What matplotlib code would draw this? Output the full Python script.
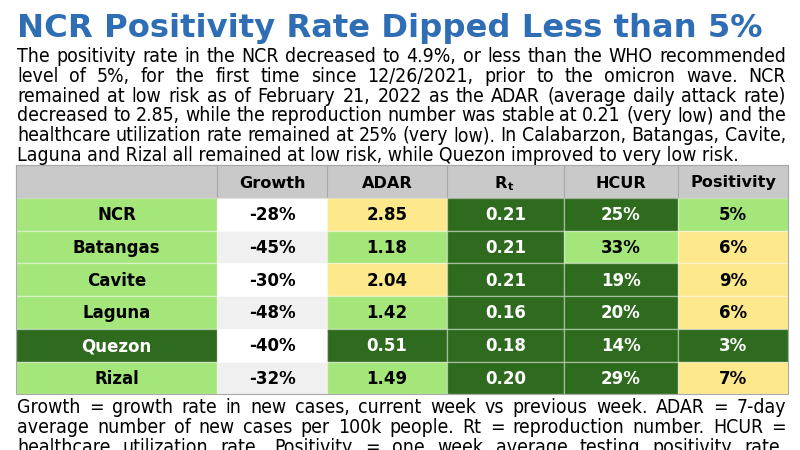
import matplotlib
matplotlib.use("Agg")
import matplotlib.pyplot as plt
from matplotlib.patches import Rectangle

plt.rcParams['font.family'] = ['DejaVu Sans']

# ---------------------------------------------------------------- data
title = "NCR Positivity Rate Dipped Less than 5%"

intro_lines = [
    "The positivity rate in the NCR decreased to 4.9%, or less than the WHO recommended",
    "level of 5%, for the first time since 12/26/2021, prior to the omicron wave. NCR",
    "remained at low risk as of February 21, 2022 as the ADAR (average daily attack rate)",
    "decreased to 2.85, while the reproduction number was stable at 0.21 (very low) and the",
    "healthcare utilization rate remained at 25% (very low). In Calabarzon, Batangas, Cavite,",
    "Laguna and Rizal all remained at low risk, while Quezon improved to very low risk.",
]

footer_lines = [
    "Growth = growth rate in new cases, current week vs previous week. ADAR = 7-day",
    "average number of new cases per 100k people. Rt = reproduction number. HCUR =",
    "healthcare utilization rate. Positivity = one week average testing positivity rate.",
]

columns = ["", "Growth", "ADAR", "R", "HCUR", "Positivity"]
regions = ["NCR", "Batangas", "Cavite", "Laguna", "Quezon", "Rizal"]
growth = ["-28%", "-45%", "-30%", "-48%", "-40%", "-32%"]
adar = ["2.85", "1.18", "2.04", "1.42", "0.51", "1.49"]
rt = ["0.21", "0.21", "0.21", "0.16", "0.18", "0.20"]
hcur = ["25%", "33%", "19%", "20%", "14%", "29%"]
positivity = ["5%", "6%", "9%", "6%", "3%", "7%"]

# risk level per cell: vl = very low, lo = low, md = moderate
region_risk = ["lo", "lo", "lo", "lo", "vl", "lo"]
adar_risk = ["md", "lo", "md", "lo", "vl", "lo"]
rt_risk = ["vl", "vl", "vl", "vl", "vl", "vl"]
hcur_risk = ["vl", "lo", "vl", "vl", "vl", "vl"]
pos_risk = ["lo", "md", "md", "md", "vl", "md"]

# ---------------------------------------------------------------- style
risk_colors = {"vl": "#2f6b1e", "lo": "#a5e67b", "md": "#fde88c"}
growth_bg = ["#ffffff", "#f0f0f0"]
title_blue = "#2f6db4"

W, H = 800, 450
fig = plt.figure(figsize=(8, 4.5), dpi=100)
ax = fig.add_axes([0, 0, 1, 1])
ax.set_xlim(0, W)
ax.set_ylim(H, 0)
ax.axis("off")
renderer = fig.canvas.get_renderer()


def text_width(s, **kw):
    t = ax.text(0, 0, s, **kw)
    w = t.get_window_extent(renderer).width
    t.remove()
    return w


def justified(line, x0, x1, y, **kw):
    words = line.split(" ")
    widths = [text_width(w, **kw) for w in words]
    gap = (x1 - x0 - sum(widths)) / (len(words) - 1)
    x = x0
    for w, wd in zip(words, widths):
        ax.text(x, y, w, ha="left", va="baseline", **kw)
        x += wd + gap


# title, sized to fit its span
tkw = dict(fontweight="bold", color=title_blue)
ts = 23 * (745 / text_width(title, fontsize=23, **tkw))
ax.text(17, 37, title, fontsize=ts, ha="left", va="baseline", **tkw)

# body text size calibrated on the unjustified last line
bkw = dict(color="black", fontstretch="condensed")
bs = 13 * (720 / text_width(intro_lines[-1], fontsize=13, **bkw))
bkw["fontsize"] = bs
for i, line in enumerate(intro_lines):
    y = 62 + i * 19.8
    if i < len(intro_lines) - 1:
        justified(line, 17, 786, y, **bkw)
    else:
        ax.text(17, y, line, ha="left", va="baseline", **bkw)

for i, line in enumerate(footer_lines):
    justified(line, 17, 786, 413 + i * 20, **bkw)

# ---------------------------------------------------------------- table
col_edges = [16, 217, 327, 447, 564, 678, 788]
head_top, head_bot, row_h = 165, 198, 32.7

cs = 11 * (88 / text_width("Batangas", fontsize=11, fontweight="bold"))
hs = 11 * (85 / text_width("Positivity", fontsize=11, fontweight="bold"))

# header
for c in range(len(columns)):
    x0, x1 = col_edges[c], col_edges[c + 1]
    ax.add_patch(Rectangle((x0, head_top), x1 - x0, head_bot - head_top,
                           facecolor="#c9c9c9", edgecolor="#a9a9a9", lw=0.8))
    xc = (x0 + x1) / 2
    yc = (head_top + head_bot) / 2 + 6
    if columns[c] == "R":
        ax.text(xc + 2, yc, "R", fontsize=hs, fontweight="bold",
                ha="right", va="baseline")
        ax.text(xc + 2, yc + 2, "t", fontsize=hs * 0.7, fontweight="bold",
                ha="left", va="baseline")
    else:
        ax.text(xc, yc, columns[c], fontsize=hs, fontweight="bold",
                ha="center", va="baseline")

table_cols = [regions, growth, adar, rt, hcur, positivity]
for r in range(len(regions)):
    y0 = head_bot + r * row_h
    fills = [risk_colors[region_risk[r]], growth_bg[r % 2],
             risk_colors[adar_risk[r]], risk_colors[rt_risk[r]],
             risk_colors[hcur_risk[r]], risk_colors[pos_risk[r]]]
    for c, vals in enumerate(table_cols):
        x0, x1 = col_edges[c], col_edges[c + 1]
        ax.add_patch(Rectangle((x0, y0), x1 - x0, row_h, facecolor=fills[c],
                               edgecolor=(1, 1, 1, 0.35), lw=1.0))
        tc = "white" if fills[c] == risk_colors["vl"] else "black"
        ax.text((x0 + x1) / 2, y0 + row_h / 2 + 6, vals[r], fontsize=cs,
                fontweight="bold", color=tc, ha="center", va="baseline")

# outer border of the table
ax.add_patch(Rectangle((col_edges[0], head_top), col_edges[-1] - col_edges[0],
                       head_bot + len(regions) * row_h - head_top,
                       facecolor="none", edgecolor="#a9a9a9", lw=0.8))

fig.savefig("out.png", dpi=100)
